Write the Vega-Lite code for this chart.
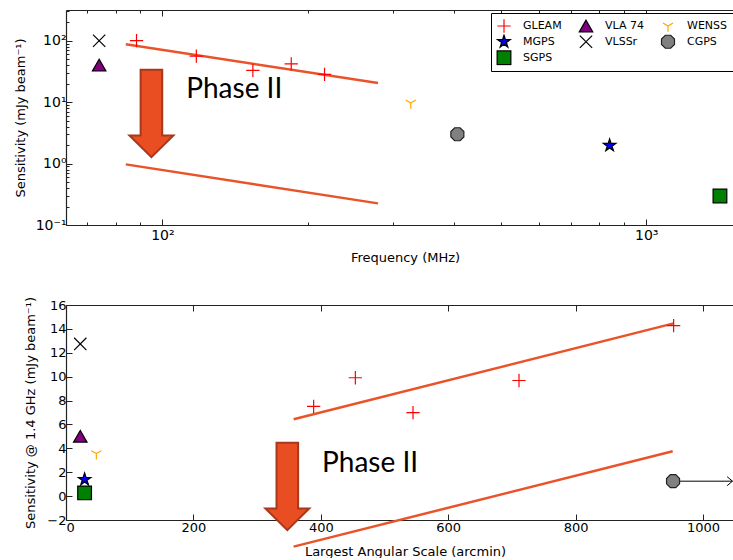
{
  "$schema": "https://vega.github.io/schema/vega-lite/v6.json",
  "padding": {"left": 14, "top": 9, "right": 0, "bottom": 0},
  "bounds": "flush",
  "spacing": 80,
  "config": {
    "view": {"stroke": null},
    "axis": {"grid": false, "labelFont": "DejaVu Sans", "labelFontSize": 13, "labelColor": "#000", "titleFont": "DejaVu Sans", "titleFontSize": 13, "titleFontWeight": "normal", "titleColor": "#000", "domainColor": "#222", "domainWidth": 1.2, "tickColor": "#222", "tickWidth": 1, "labelPadding": 6, "titlePadding": 9}
  },
  "datasets": {
    "top_pts": [
      {"survey": "GLEAM", "freq": 88.4, "sens": 100},
      {"survey": "GLEAM", "freq": 117.5, "sens": 56},
      {"survey": "GLEAM", "freq": 153.8, "sens": 33},
      {"survey": "GLEAM", "freq": 184.6, "sens": 42},
      {"survey": "GLEAM", "freq": 216.3, "sens": 28.4},
      {"survey": "VLSSr", "freq": 74, "sens": 100},
      {"survey": "VLA 74", "freq": 74, "sens": 40},
      {"survey": "WENSS", "freq": 326, "sens": 9.7},
      {"survey": "CGPS", "freq": 407, "sens": 3.0},
      {"survey": "MGPS", "freq": 840, "sens": 1.97},
      {"survey": "SGPS", "freq": 1420, "sens": 0.297}
    ],
    "top_lines": [
      {"grp": "upper", "freq": 84, "sens": 87.4},
      {"grp": "upper", "freq": 279, "sens": 20.5},
      {"grp": "lower", "freq": 84, "sens": 0.97},
      {"grp": "lower", "freq": 279, "sens": 0.225}
    ],
    "top_arrow": [{"freq": 94.9, "sens": 6.54}],
    "top_text": [{"freq": 112, "sens": 11.9, "label": "Phase II"}],
    "bot_pts": [
      {"survey": "GLEAM", "las": 388.7, "sens": 7.51},
      {"survey": "GLEAM", "las": 454.2, "sens": 9.91},
      {"survey": "GLEAM", "las": 544.7, "sens": 6.99},
      {"survey": "GLEAM", "las": 711.1, "sens": 9.68},
      {"survey": "GLEAM", "las": 953.8, "sens": 14.27},
      {"survey": "VLSSr", "las": 22.4, "sens": 12.74},
      {"survey": "VLA 74", "las": 22.4, "sens": 5.01},
      {"survey": "WENSS", "las": 47.6, "sens": 3.56},
      {"survey": "MGPS", "las": 29.2, "sens": 1.39},
      {"survey": "SGPS", "las": 29.2, "sens": 0.27},
      {"survey": "CGPS", "las": 952.9, "sens": 1.25}
    ],
    "bot_lines": [
      {"grp": "upper", "las": 357.3, "sens": 6.43},
      {"grp": "upper", "las": 953.8, "sens": 14.46},
      {"grp": "lower", "las": 357.3, "sens": -4.23},
      {"grp": "lower", "las": 952.3, "sens": 3.75}
    ],
    "bot_arrow": [{"las": 347.4, "sens": 0.81}],
    "bot_text": [{"las": 401.9, "sens": 2.0, "label": "Phase II"}],
    "bot_limit": [{"las": 952.9, "las2": 1046, "sens": 1.25, "head": 1042}]
  },
  "vconcat": [
    {
      "width": 667,
      "height": 215,
      "resolve": {"axis": {"x": "independent", "y": "independent"}},
      "layer": [
        {
          "data": {"name": "top_lines"},
          "mark": {"type": "line", "color": "#ea5329", "strokeWidth": 2.5},
          "encoding": {
            "x": {"field": "freq", "type": "quantitative", "scale": {"type": "log", "domain": [63.2, 1511], "nice": false}, "axis": {"orient": "top", "values": [100, 1000], "labels": false, "tickSize": -6, "domain": true, "title": null}},
            "y": {"field": "sens", "type": "quantitative", "scale": {"type": "log", "domain": [0.1, 316.2], "nice": false}, "axis": {"orient": "left", "values": [0.2, 0.3, 0.4, 0.5, 0.6, 0.7, 0.8, 0.9, 2, 3, 4, 5, 6, 7, 8, 9, 20, 30, 40, 50, 60, 70, 80, 90, 200, 300], "labels": false, "tickSize": -3, "domain": false, "title": null}},
            "detail": {"field": "grp", "type": "nominal"}
          }
        },
        {
          "data": {"name": "top_arrow"},
          "mark": {"type": "point", "shape": "M-0.247,-1L0.247,-1L0.247,0.503L0.503,0.503L0,1L-0.503,0.503L-0.247,0.503Z", "size": 7640, "filled": true, "fill": "#e84e22", "stroke": "#a8381b", "strokeWidth": 2, "opacity": 1},
          "encoding": {
            "x": {"field": "freq", "type": "quantitative", "scale": {"type": "log", "domain": [63.2, 1511], "nice": false}, "axis": {"orient": "bottom", "values": [70, 80, 90, 200, 300, 400, 500, 600, 700, 800, 900], "labels": false, "tickSize": -3, "domain": false, "title": null}},
            "y": {"field": "sens", "type": "quantitative", "scale": {"type": "log", "domain": [0.1, 316.2], "nice": false}, "axis": null}
          }
        },
        {
          "data": {"name": "top_text"},
          "mark": {"type": "text", "font": "Lato", "fontSize": 28, "align": "left", "baseline": "alphabetic", "color": "#000"},
          "encoding": {
            "x": {"field": "freq", "type": "quantitative", "scale": {"type": "log", "domain": [63.2, 1511], "nice": false}, "axis": {"orient": "top", "values": [70, 80, 90, 200, 300, 400, 500, 600, 700, 800, 900], "labels": false, "tickSize": -3, "domain": false, "title": null}},
            "y": {"field": "sens", "type": "quantitative", "scale": {"type": "log", "domain": [0.1, 316.2], "nice": false}, "axis": null},
            "text": {"field": "label"}
          }
        },
        {
          "data": {"name": "top_pts"},
          "mark": {"type": "point", "strokeWidth": 1.2, "opacity": 1},
          "encoding": {
            "x": {"field": "freq", "type": "quantitative", "scale": {"type": "log", "domain": [63.2, 1511], "nice": false}, "axis": {"orient": "bottom", "values": [100, 1000], "tickSize": -6, "labelFontSize": 14, "labelPadding": 9, "titlePadding": 9, "labelExpr": "datum.value < 500 ? '10²' : '10³'", "title": "Frequency (MHz)", "titleX": 339}},
            "y": {"field": "sens", "type": "quantitative", "scale": {"type": "log", "domain": [0.1, 316.2], "nice": false}, "axis": {"orient": "left", "values": [0.1, 1, 10, 100], "tickSize": -6, "labelFontSize": 14, "titlePadding": 8, "labelExpr": "datum.value < 0.5 ? '10⁻¹' : datum.value < 5 ? '10⁰' : datum.value < 50 ? '10¹' : '10²'", "title": "Sensitivity (mJy beam⁻¹)"}},
            "shape": {"field": "survey", "type": "nominal", "scale": {"domain": ["GLEAM", "MGPS", "CGPS", "VLA 74", "VLSSr", "SGPS", "WENSS"], "range": ["M-1,0L1,0M0,-1L0,1", "M0,-1L0.2245,-0.309L0.951,-0.309L0.363,0.118L0.588,0.809L0,0.382L-0.588,0.809L-0.363,0.118L-0.951,-0.309L-0.2245,-0.309Z", "M-0.383,-0.924L0.383,-0.924L0.924,-0.383L0.924,0.383L0.383,0.924L-0.383,0.924L-0.924,0.383L-0.924,-0.383Z", "triangle-up", "M-1,-1L1,1M-1,1L1,-1", "square", "M0,0L0,1M0,0L-0.866,-0.5M0,0L0.866,-0.5"]}, "legend": {"orient": "none", "legendX": 425, "legendY": 3, "columns": 3, "title": null, "labelFont": "DejaVu Sans", "labelFontSize": 11, "labelColor": "#000", "labelOffset": 11, "columnPadding": 16, "rowPadding": 0, "clipHeight": 15.5, "padding": 5, "strokeColor": "#000", "fillColor": "#fff", "symbolStrokeWidth": 1.2, "symbolOpacity": 1, "cornerRadius": 0}},
            "fill": {"field": "survey", "type": "nominal", "scale": {"domain": ["GLEAM", "MGPS", "CGPS", "VLA 74", "VLSSr", "SGPS", "WENSS"], "range": ["transparent", "#0000ff", "#808080", "#800080", "transparent", "#008000", "transparent"]}, "legend": {"orient": "none", "legendX": 425, "legendY": 3, "columns": 3, "title": null}},
            "stroke": {"field": "survey", "type": "nominal", "scale": {"domain": ["GLEAM", "MGPS", "CGPS", "VLA 74", "VLSSr", "SGPS", "WENSS"], "range": ["#ff0000", "#000000", "#222222", "#000000", "#000000", "#000000", "#ffa500"]}, "legend": {"orient": "none", "legendX": 425, "legendY": 3, "columns": 3, "title": null}},
            "size": {"field": "survey", "type": "nominal", "scale": {"type": "ordinal", "domain": ["GLEAM", "MGPS", "CGPS", "VLA 74", "VLSSr", "SGPS", "WENSS"], "range": [177, 172, 198, 182, 151, 188, 135]}, "legend": {"orient": "none", "legendX": 425, "legendY": 3, "columns": 3, "title": null}}
          }
        }
      ]
    },
    {
      "width": 667,
      "height": 215,
      "resolve": {"axis": {"x": "independent", "y": "independent"}, "scale": {"shape": "independent", "fill": "independent", "stroke": "independent", "size": "independent"}},
      "layer": [
        {
          "data": {"name": "bot_lines"},
          "mark": {"type": "line", "color": "#ea5329", "strokeWidth": 2.5},
          "encoding": {
            "x": {"field": "las", "type": "quantitative", "scale": {"domain": [0, 1047], "nice": false, "zero": false}, "axis": {"orient": "top", "values": [0, 200, 400, 600, 800, 1000], "labels": false, "tickSize": -6, "domain": true, "title": null}},
            "y": {"field": "sens", "type": "quantitative", "scale": {"domain": [-2, 16], "nice": false, "zero": false}, "axis": null},
            "detail": {"field": "grp", "type": "nominal"}
          }
        },
        {
          "data": {"name": "bot_text"},
          "mark": {"type": "text", "font": "Lato", "fontSize": 28, "align": "left", "baseline": "alphabetic", "color": "#000"},
          "encoding": {
            "x": {"field": "las", "type": "quantitative", "scale": {"domain": [0, 1047], "nice": false, "zero": false}, "axis": null},
            "y": {"field": "sens", "type": "quantitative", "scale": {"domain": [-2, 16], "nice": false, "zero": false}, "axis": null},
            "text": {"field": "label"}
          }
        },
        {
          "data": {"name": "bot_limit"},
          "mark": {"type": "rule", "color": "#000", "strokeWidth": 1},
          "encoding": {
            "x": {"field": "las", "type": "quantitative", "scale": {"domain": [0, 1047], "nice": false, "zero": false}, "axis": null},
            "x2": {"field": "las2"},
            "y": {"field": "sens", "type": "quantitative", "scale": {"domain": [-2, 16], "nice": false, "zero": false}, "axis": null}
          }
        },
        {
          "data": {"name": "bot_limit"},
          "mark": {"type": "point", "shape": "M-0.6,-1L0.6,0L-0.6,1", "size": 81, "filled": false, "stroke": "#000", "strokeWidth": 1, "opacity": 1},
          "encoding": {
            "x": {"field": "head", "type": "quantitative", "scale": {"domain": [0, 1047], "nice": false, "zero": false}, "axis": null},
            "y": {"field": "sens", "type": "quantitative", "scale": {"domain": [-2, 16], "nice": false, "zero": false}, "axis": null}
          }
        },
        {
          "data": {"name": "bot_pts"},
          "mark": {"type": "point", "strokeWidth": 1.2, "opacity": 1},
          "encoding": {
            "x": {"field": "las", "type": "quantitative", "scale": {"domain": [0, 1047], "nice": false, "zero": false}, "axis": {"orient": "bottom", "values": [0, 200, 400, 600, 800, 1000], "format": "d", "tickSize": -6, "labelPadding": 7, "titlePadding": 11, "title": "Largest Angular Scale (arcmin)", "titleX": 339}},
            "y": {"field": "sens", "type": "quantitative", "scale": {"domain": [-2, 16], "nice": false, "zero": false}, "axis": {"orient": "left", "values": [-2, 0, 2, 4, 6, 8, 10, 12, 14, 16], "tickSize": -6, "title": "Sensitivity @ 1.4 GHz (mJy beam⁻¹)"}},
            "shape": {"field": "survey", "type": "nominal", "scale": {"domain": ["GLEAM", "MGPS", "CGPS", "VLA 74", "VLSSr", "SGPS", "WENSS"], "range": ["M-1,0L1,0M0,-1L0,1", "M0,-1L0.2245,-0.309L0.951,-0.309L0.363,0.118L0.588,0.809L0,0.382L-0.588,0.809L-0.363,0.118L-0.951,-0.309L-0.2245,-0.309Z", "M-0.383,-0.924L0.383,-0.924L0.924,-0.383L0.924,0.383L0.383,0.924L-0.383,0.924L-0.924,0.383L-0.924,-0.383Z", "triangle-up", "M-1,-1L1,1M-1,1L1,-1", "square", "M0,0L0,1M0,0L-0.866,-0.5M0,0L0.866,-0.5"]}, "legend": null},
            "fill": {"field": "survey", "type": "nominal", "scale": {"domain": ["GLEAM", "MGPS", "CGPS", "VLA 74", "VLSSr", "SGPS", "WENSS"], "range": ["transparent", "#0000ff", "#808080", "#800080", "transparent", "#008000", "transparent"]}, "legend": null},
            "stroke": {"field": "survey", "type": "nominal", "scale": {"domain": ["GLEAM", "MGPS", "CGPS", "VLA 74", "VLSSr", "SGPS", "WENSS"], "range": ["#ff0000", "#000000", "#222222", "#000000", "#000000", "#000000", "#ffa500"]}, "legend": null},
            "size": {"field": "survey", "type": "nominal", "scale": {"type": "ordinal", "domain": ["GLEAM", "MGPS", "CGPS", "VLA 74", "VLSSr", "SGPS", "WENSS"], "range": [177, 172, 198, 182, 151, 188, 135]}, "legend": null}
          }
        },
        {
          "data": {"name": "bot_arrow"},
          "mark": {"type": "point", "shape": "M-0.247,-1L0.247,-1L0.247,0.503L0.503,0.503L0,1L-0.503,0.503L-0.247,0.503Z", "size": 7640, "filled": true, "fill": "#e84e22", "stroke": "#a8381b", "strokeWidth": 2, "opacity": 1},
          "encoding": {
            "x": {"field": "las", "type": "quantitative", "scale": {"domain": [0, 1047], "nice": false, "zero": false}, "axis": null},
            "y": {"field": "sens", "type": "quantitative", "scale": {"domain": [-2, 16], "nice": false, "zero": false}, "axis": null}
          }
        }
      ]
    }
  ]
}
